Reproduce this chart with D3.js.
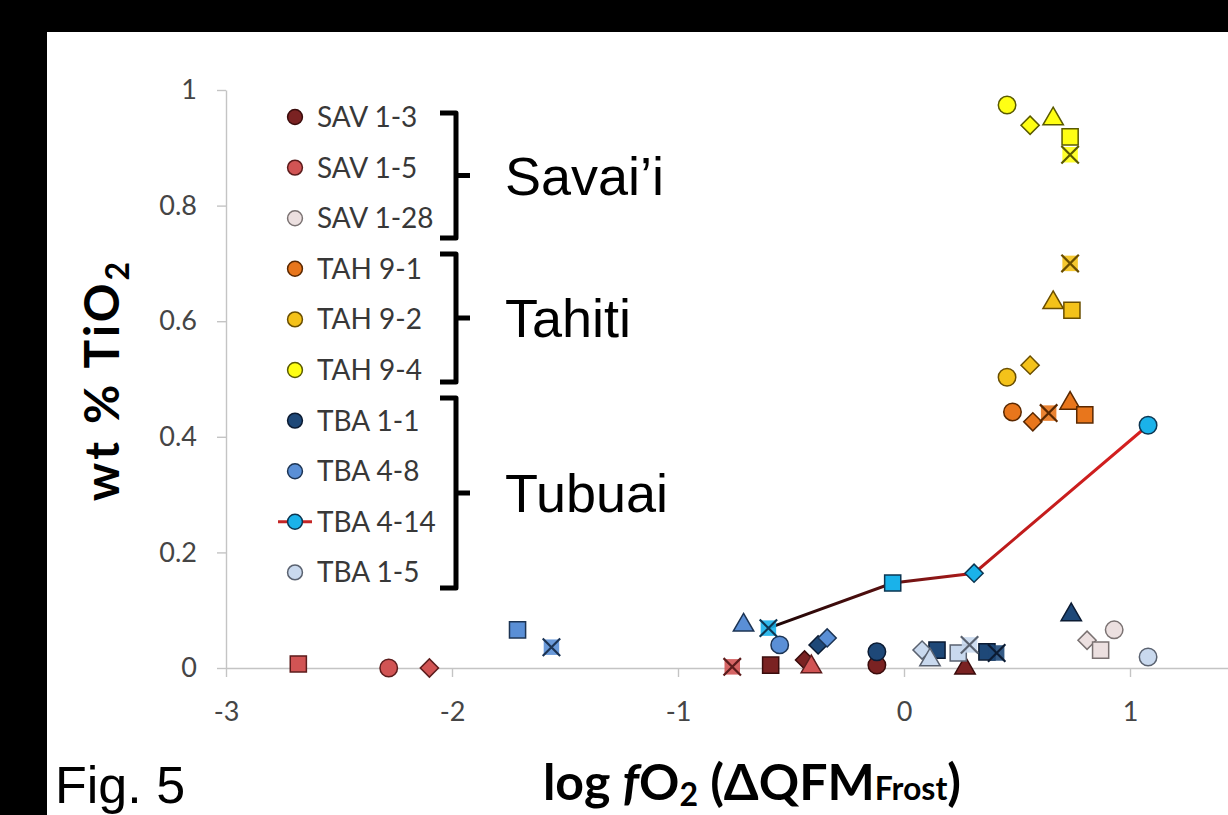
<!DOCTYPE html>
<html>
<head>
<meta charset="utf-8">
<script src="https://cdn.jsdelivr.net/npm/d3@7"></script>
<style>
  html, body { margin: 0; padding: 0; background: #000; overflow: hidden; }
</style>
</head>
<body>
<svg id="chart"></svg>
<script>
// ---- data ----
const xTicks = [-3, -2, -1, 0, 1];
const yTicks = [0, 0.2, 0.4, 0.6, 0.8, 1];

const sampleNames = ['SAV 1-3', 'SAV 1-5', 'SAV 1-28', 'TAH 9-1', 'TAH 9-2', 'TAH 9-4',
                     'TBA 1-1', 'TBA 4-8', 'TBA 4-14', 'TBA 1-5'];

const groupNames = ['Savai’i', 'Tahiti', 'Tubuai'];
const groupMembers = [['SAV 1-3', 'SAV 1-5', 'SAV 1-28'],
                      ['TAH 9-1', 'TAH 9-2', 'TAH 9-4'],
                      ['TBA 1-1', 'TBA 4-8', 'TBA 4-14', 'TBA 1-5']];

// each point: log fO2, wt% TiO2, marker (experiment)
const sav13 = [
  {x: -0.59, y: 0.005, m: 'square'}, {x: -0.44, y: 0.014, m: 'diamond'},
  {x: -0.12, y: 0.005, m: 'circle'}, {x: 0.27, y: 0.0, m: 'triangle'}
];
const sav15 = [
  {x: -2.68, y: 0.007, m: 'square'}, {x: -2.28, y: 0.0, m: 'circle'},
  {x: -2.10, y: 0.0, m: 'diamond'}, {x: -0.76, y: 0.002, m: 'xstar'},
  {x: -0.41, y: 0.002, m: 'triangle'}
];
const sav128 = [
  {x: 0.81, y: 0.048, m: 'diamond'}, {x: 0.87, y: 0.031, m: 'square'},
  {x: 0.93, y: 0.066, m: 'circle'}
];
const tah91 = [
  {x: 0.48, y: 0.443, m: 'circle'}, {x: 0.57, y: 0.426, m: 'diamond'},
  {x: 0.64, y: 0.441, m: 'xstar'}, {x: 0.735, y: 0.458, m: 'triangle'},
  {x: 0.80, y: 0.438, m: 'square'}
];
const tah92 = [
  {x: 0.456, y: 0.503, m: 'circle'}, {x: 0.558, y: 0.524, m: 'diamond'},
  {x: 0.66, y: 0.632, m: 'triangle'}, {x: 0.743, y: 0.619, m: 'square'},
  {x: 0.735, y: 0.70, m: 'xstar'}
];
const tah94 = [
  {x: 0.456, y: 0.974, m: 'circle'}, {x: 0.558, y: 0.939, m: 'diamond'},
  {x: 0.66, y: 0.95, m: 'triangle'}, {x: 0.735, y: 0.919, m: 'square'},
  {x: 0.735, y: 0.888, m: 'xstar'}
];
const tba11 = [
  {x: -0.38, y: 0.040, m: 'diamond'}, {x: -0.12, y: 0.028, m: 'circle'},
  {x: 0.146, y: 0.031, m: 'square'}, {x: 0.367, y: 0.028, m: 'square'},
  {x: 0.41, y: 0.026, m: 'xstar'}, {x: 0.74, y: 0.092, m: 'triangle'}
];
const tba48 = [
  {x: -1.71, y: 0.066, m: 'square'}, {x: -1.56, y: 0.036, m: 'xstar'},
  {x: -0.71, y: 0.074, m: 'triangle'}, {x: -0.55, y: 0.040, m: 'circle'},
  {x: -0.34, y: 0.052, m: 'diamond'}
];
const tba414 = [
  {x: -0.60, y: 0.069, m: 'xstar'}, {x: -0.05, y: 0.147, m: 'square'},
  {x: 0.31, y: 0.164, m: 'diamond'}, {x: 1.08, y: 0.42, m: 'circle'}
];
const tba15 = [
  {x: 0.08, y: 0.031, m: 'diamond'}, {x: 0.115, y: 0.014, m: 'triangle'},
  {x: 0.24, y: 0.026, m: 'square'}, {x: 0.29, y: 0.040, m: 'xstar'},
  {x: 1.08, y: 0.019, m: 'circle'}
];
const seriesValues = [sav13, sav15, sav128, tah91, tah92, tah94, tba11, tba48, tba414, tba15];

// ---- styles ----
const fills   = ['#7a2222', '#d15454', '#ece0e0', '#e8761c', '#f4c21a', '#ffff14',
                 '#1e4878', '#5a8fd6', '#1ab2ea', '#c9d9ee'];
const strokes = ['#3a0c0c', '#5c1c1c', '#7a7272', '#5a2800', '#6a4e00', '#5a5a00',
                 '#0b1b33', '#1c3454', '#0c3652', '#5a6270'];

const W = 1228, H = 815;
const svg = d3.select('#chart').attr('width', W).attr('height', H);

svg.append('rect').attr('width', W).attr('height', H).attr('fill', '#000');
svg.append('rect').attr('x', 47).attr('y', 32).attr('width', W - 47).attr('height', H - 32).attr('fill', '#fff');

const x = d3.scaleLinear().domain([-3, 2]).range([226, 1356]);
const y = d3.scaleLinear().domain([0, 1]).range([668, 90]);

// axes
const yAxis = svg.append('g').attr('transform', `translate(${x(-3)},0)`)
  .call(d3.axisLeft(y).tickValues(yTicks).tickSize(9).tickSizeOuter(0).tickPadding(20).tickFormat(d => String(d)));
const xAxis = svg.append('g').attr('transform', `translate(0,${y(0)})`)
  .call(d3.axisBottom(x).tickValues(xTicks).tickSize(9).tickSizeOuter(0).tickPadding(25).tickFormat(d => String(d)));
[yAxis, xAxis].forEach(a => {
  a.select('.domain').attr('stroke', '#c4c4c4').attr('stroke-width', 1.4);
  a.selectAll('.tick line').attr('stroke', '#c4c4c4').attr('stroke-width', 1.4);
  a.selectAll('.tick text').attr('fill', '#454545').attr('font-family', 'Lato, sans-serif').attr('font-size', 27);
});

// markers
function marker(g, m, cx, cy, fill, stroke, scale) {
  const s = scale || 1;
  const t = `translate(${cx},${cy})`;
  if (m === 'circle') {
    g.append('path').attr('d', d3.symbol(d3.symbolCircle, 240 * s * s)()).attr('transform', t)
      .attr('fill', fill).attr('stroke', stroke).attr('stroke-width', 1.5);
  } else if (m === 'square') {
    g.append('path').attr('d', d3.symbol(d3.symbolSquare, 260 * s * s)()).attr('transform', t)
      .attr('fill', fill).attr('stroke', stroke).attr('stroke-width', 1.5);
  } else if (m === 'diamond') {
    g.append('path').attr('d', d3.symbol(d3.symbolSquare, 165 * s * s)()).attr('transform', t + ' rotate(45)')
      .attr('fill', fill).attr('stroke', stroke).attr('stroke-width', 1.5);
  } else if (m === 'triangle') {
    g.append('path').attr('d', d3.symbol(d3.symbolTriangle, 180 * s * s)()).attr('transform', t)
      .attr('fill', fill).attr('stroke', stroke).attr('stroke-width', 1.5);
  } else if (m === 'xstar') {
    g.append('path').attr('d', d3.symbol(d3.symbolSquare, 240 * s * s)()).attr('transform', t)
      .attr('fill', fill).attr('opacity', 0.9);
    g.append('path').attr('d', d3.symbol(d3.symbolX, 200 * s * s)()).attr('transform', t)
      .attr('fill', 'none').attr('stroke', stroke).attr('stroke-width', 2.2);
  }
}

// TBA 4-14 connecting line, dark at the reduced end and red at the oxidised end
const defs = svg.append('defs');
const grad = defs.append('linearGradient').attr('id', 'lineGrad').attr('gradientUnits', 'userSpaceOnUse')
  .attr('x1', x(tba414[0].x)).attr('x2', x(tba414[tba414.length - 1].x)).attr('y1', 0).attr('y2', 0);
grad.append('stop').attr('offset', 0).attr('stop-color', '#1a0505');
grad.append('stop').attr('offset', 0.3).attr('stop-color', '#551010');
grad.append('stop').attr('offset', 0.55).attr('stop-color', '#b81a1a');
grad.append('stop').attr('offset', 1).attr('stop-color', '#d82020');

const pts = svg.append('g');
seriesValues.forEach((vals, i) => {
  if (sampleNames[i] === 'TBA 4-14') {
    pts.append('path').datum(vals)
      .attr('d', d3.line().x(d => x(d.x)).y(d => y(d.y)))
      .attr('fill', 'none').attr('stroke', 'url(#lineGrad)').attr('stroke-width', 3);
  }
  vals.forEach(d => marker(pts, d.m, x(d.x), y(d.y), fills[i], strokes[i]));
});

// legend
const legX = 295, legY0 = 117, legStep = 50.6;
const leg = svg.append('g');
sampleNames.forEach((name, i) => {
  const ly = legY0 + i * legStep;
  if (name === 'TBA 4-14') {
    leg.append('line').attr('x1', legX - 17).attr('x2', legX + 17).attr('y1', ly).attr('y2', ly)
      .attr('stroke', '#c42626').attr('stroke-width', 3);
  }
  marker(leg, 'circle', legX, ly, fills[i], strokes[i], 0.85);
  leg.append('text').attr('x', legX + 22).attr('y', ly).attr('dy', '0.36em')
    .attr('font-family', 'Lato, sans-serif').attr('font-size', 28).attr('fill', '#383838')
    .text(name);
});

// group braces and names
const braceSpans = [[113, 238], [254, 382], [398, 588]];
groupNames.forEach((g, i) => {
  const [t, b] = braceSpans[i];
  const mid = (t + b) / 2;
  const p = d3.path();
  p.moveTo(440, t); p.lineTo(456, t); p.lineTo(456, b); p.lineTo(440, b);
  p.moveTo(456, mid); p.lineTo(470, mid);
  svg.append('path').attr('d', p.toString()).attr('fill', 'none').attr('stroke', '#000')
    .attr('stroke-width', 5).attr('stroke-linejoin', 'round');
  svg.append('text').attr('x', 505).attr('y', mid).attr('dy', '0.36em')
    .attr('font-family', 'Liberation Sans, Arial, sans-serif').attr('font-size', 54).attr('fill', '#000')
    .text(g);
});

// axis titles
const yt = svg.append('text').attr('transform', 'translate(119,380) rotate(-90)')
  .attr('text-anchor', 'middle').attr('font-family', 'Lato, sans-serif').attr('font-weight', 'bold')
  .attr('font-size', 48).attr('letter-spacing', 3).attr('fill', '#000');
yt.append('tspan').text('wt % TiO');
yt.append('tspan').attr('font-size', 32).attr('dy', 10).text('2');

const xt = svg.append('text').attr('x', 752).attr('y', 800).attr('text-anchor', 'middle')
  .attr('font-family', 'Lato, sans-serif').attr('font-weight', 'bold').attr('font-size', 50).attr('fill', '#000');
xt.append('tspan').text('log ');
xt.append('tspan').attr('font-style', 'italic').text('f');
xt.append('tspan').text('O');
xt.append('tspan').attr('font-size', 32).attr('dy', 6).text('2');
xt.append('tspan').attr('dy', -6).text(' (ΔQFM');
xt.append('tspan').attr('font-size', 32).text('Frost');
xt.append('tspan').text(')');

svg.append('text').attr('x', 55).attr('y', 803)
  .attr('font-family', 'Liberation Sans, Arial, sans-serif').attr('font-size', 52).attr('fill', '#000')
  .text('Fig. 5');
</script>
</body>
</html>
